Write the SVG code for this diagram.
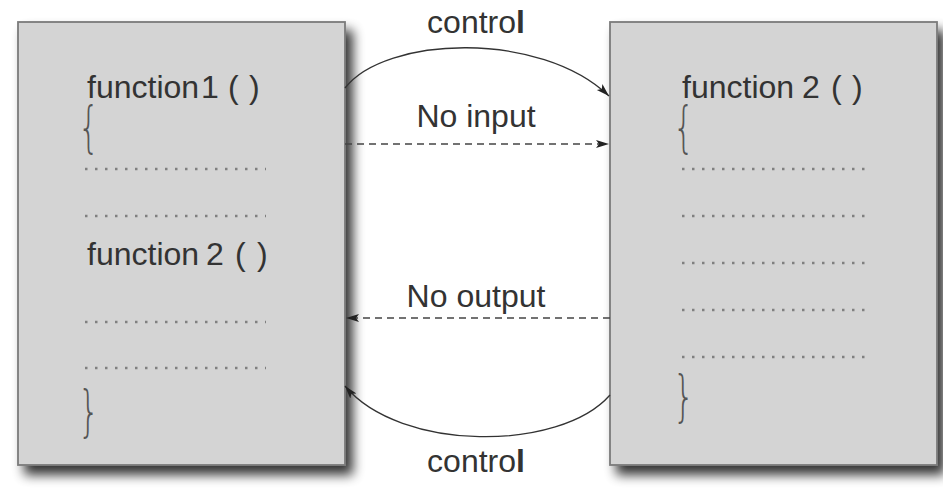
<svg xmlns="http://www.w3.org/2000/svg" width="943" height="494" viewBox="0 0 943 494">
<defs>
<filter id="sh" x="-10%" y="-10%" width="130%" height="130%">
<feGaussianBlur in="SourceAlpha" stdDeviation="6"/>
<feOffset dx="7" dy="9" result="b"/>
<feComponentTransfer><feFuncA type="linear" slope="0.8"/></feComponentTransfer>
<feMerge><feMergeNode/><feMergeNode in="SourceGraphic"/></feMerge>
</filter>
<marker id="ah" markerWidth="14" markerHeight="10" refX="13" refY="4" orient="auto" markerUnits="userSpaceOnUse">
<path d="M0,0 L13,4 L0,8 L3,4 z" fill="#222"/>
</marker>
</defs>
<style>
.box{fill:#d4d4d4;stroke:#7a7a7a;stroke-width:1.8}
.t{font-family:"Liberation Sans",Arial,sans-serif;font-size:32px;fill:#333}
.lbl{font-family:"Liberation Sans",Arial,sans-serif;font-size:32px;fill:#333;text-anchor:middle}
.br{font-family:"DejaVu Sans",sans-serif;font-weight:200;font-size:56px;fill:#555}
.dots{stroke:#808080;stroke-width:2.5;stroke-dasharray:2.5 7.5;fill:none}
.arc{fill:none;stroke:#333;stroke-width:1.3}
.dash{fill:none;stroke:#444;stroke-width:1.3;stroke-dasharray:7 5}
</style>
<rect width="943" height="494" fill="#fff"/>
<g id="node-left">
<rect class="box" x="18" y="22" width="327" height="443" filter="url(#sh)"/>
<text class="t" y="98"><tspan x="87">function</tspan> <tspan x="201">1</tspan> <tspan x="228">(</tspan> <tspan x="249">)</tspan></text>
<text class="br" transform="translate(78,146) scale(0.6,1)">{</text>
<line class="dots" x1="85" y1="169" x2="266" y2="169"/>
<line class="dots" x1="85" y1="216" x2="266" y2="216"/>
<text class="t" y="265"><tspan x="87">function</tspan> <tspan x="206">2</tspan> <tspan x="235">(</tspan> <tspan x="257">)</tspan></text>
<line class="dots" x1="85" y1="322" x2="266" y2="322"/>
<line class="dots" x1="85" y1="368" x2="266" y2="368"/>
<text class="br" transform="translate(78,430) scale(0.6,1)">}</text>
</g>
<g id="node-right">
<rect class="box" x="610" y="22" width="327" height="443" filter="url(#sh)"/>
<text class="t" y="98"><tspan x="682">function</tspan> <tspan x="802">2</tspan> <tspan x="831">(</tspan> <tspan x="852">)</tspan></text>
<text class="br" transform="translate(673,146) scale(0.6,1)">{</text>
<line class="dots" x1="682" y1="169" x2="865" y2="169"/>
<line class="dots" x1="682" y1="216" x2="865" y2="216"/>
<line class="dots" x1="682" y1="263" x2="865" y2="263"/>
<line class="dots" x1="682" y1="310" x2="865" y2="310"/>
<line class="dots" x1="682" y1="357" x2="865" y2="357"/>
<text class="br" transform="translate(673,415) scale(0.6,1)">}</text>
</g>
<g id="connectors">
<path class="arc" d="M345,88 C385,36 540,30 609,96" marker-end="url(#ah)"/>
<path class="dash" d="M345,144 L609,144" marker-end="url(#ah)"/>
<path class="dash" d="M610,318 L346,318" marker-end="url(#ah)"/>
<path class="arc" d="M610,395 C560,452 400,452 345,386" marker-end="url(#ah)"/>
<text class="lbl" x="476" y="33">contro<tspan font-weight="bold">l</tspan></text>
<text class="lbl" x="476" y="127">No input</text>
<text class="lbl" x="476" y="307">No output</text>
<text class="lbl" x="476" y="472">contro<tspan font-weight="bold">l</tspan></text>
</g>
</svg>
